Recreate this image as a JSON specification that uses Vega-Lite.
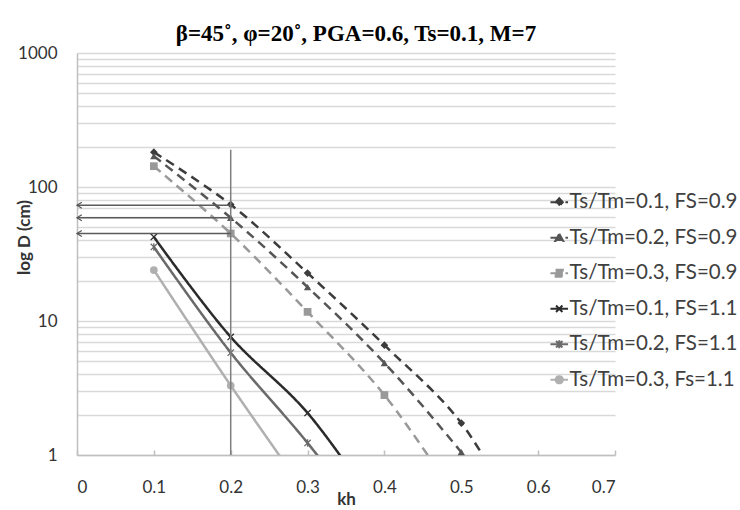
{
  "$schema": "https://vega.github.io/schema/vega-lite/v6.json",
  "width": 538,
  "height": 402,
  "autosize": "none",
  "padding": {"left": 77, "top": 53, "right": 125, "bottom": 55},
  "background": "white",
  "config": {
    "view": {"stroke": null},
    "font": "Lato"
  },
  "title": {
    "text": "β=45˚, φ=20˚, PGA=0.6, Ts=0.1, M=7",
    "font": "Liberation Serif, DejaVu Serif",
    "fontSize": 23,
    "fontWeight": "bold",
    "color": "#000000",
    "anchor": "middle",
    "baseline": "bottom",
    "frame": "group",
    "offset": 6,
    "dx": 10,
    "dy": 31
  },
  "data": {
    "values": [
      {"series": "Ts/Tm=0.1, FS=0.9", "kh": 0.1, "D": 182},
      {"series": "Ts/Tm=0.1, FS=0.9", "kh": 0.2, "D": 74},
      {"series": "Ts/Tm=0.1, FS=0.9", "kh": 0.3, "D": 22.8},
      {"series": "Ts/Tm=0.1, FS=0.9", "kh": 0.4, "D": 6.6},
      {"series": "Ts/Tm=0.1, FS=0.9", "kh": 0.5, "D": 1.73},
      {"series": "Ts/Tm=0.1, FS=0.9", "kh": 0.6, "D": 0.18},
      {"series": "Ts/Tm=0.2, FS=0.9", "kh": 0.1, "D": 170},
      {"series": "Ts/Tm=0.2, FS=0.9", "kh": 0.2, "D": 59},
      {"series": "Ts/Tm=0.2, FS=0.9", "kh": 0.3, "D": 17.9},
      {"series": "Ts/Tm=0.2, FS=0.9", "kh": 0.4, "D": 4.86},
      {"series": "Ts/Tm=0.2, FS=0.9", "kh": 0.5, "D": 1.05},
      {"series": "Ts/Tm=0.2, FS=0.9", "kh": 0.6, "D": 0.2},
      {"series": "Ts/Tm=0.3, FS=0.9", "kh": 0.1, "D": 143},
      {"series": "Ts/Tm=0.3, FS=0.9", "kh": 0.2, "D": 45},
      {"series": "Ts/Tm=0.3, FS=0.9", "kh": 0.3, "D": 11.7},
      {"series": "Ts/Tm=0.3, FS=0.9", "kh": 0.4, "D": 2.8},
      {"series": "Ts/Tm=0.3, FS=0.9", "kh": 0.5, "D": 0.42},
      {"series": "Ts/Tm=0.1, FS=1.1", "kh": 0.1, "D": 42.4},
      {"series": "Ts/Tm=0.1, FS=1.1", "kh": 0.2, "D": 7.6},
      {"series": "Ts/Tm=0.1, FS=1.1", "kh": 0.3, "D": 2.06},
      {"series": "Ts/Tm=0.1, FS=1.1", "kh": 0.4, "D": 0.33},
      {"series": "Ts/Tm=0.2, FS=1.1", "kh": 0.1, "D": 35.7},
      {"series": "Ts/Tm=0.2, FS=1.1", "kh": 0.2, "D": 5.8},
      {"series": "Ts/Tm=0.2, FS=1.1", "kh": 0.3, "D": 1.23},
      {"series": "Ts/Tm=0.2, FS=1.1", "kh": 0.4, "D": 0.22},
      {"series": "Ts/Tm=0.3, Fs=1.1", "kh": 0.1, "D": 24},
      {"series": "Ts/Tm=0.3, Fs=1.1", "kh": 0.2, "D": 3.3},
      {"series": "Ts/Tm=0.3, Fs=1.1", "kh": 0.3, "D": 0.5}
    ]
  },
  "layer": [
    {
      "mark": {"type": "line", "interpolate": "catmull-rom", "strokeWidth": 2.5, "clip": true},
      "encoding": {
        "x": {
          "field": "kh", "type": "quantitative",
          "scale": {"domain": [0, 0.7], "nice": false, "zero": false},
          "axis": {
            "title": "kh", "values": [0, 0.1, 0.2, 0.3, 0.4, 0.5, 0.6, 0.7], "format": "~g",
            "grid": false, "domainColor": "#bfbfbf", "domainWidth": 1.5,
            "tickColor": "#bfbfbf", "tickSize": -5, "tickWidth": 1.5,
            "labelFont": "Lato", "labelFontSize": 17, "labelColor": "#333333", "labelPadding": 29,
            "titleFont": "Lato", "titleFontSize": 17, "titleFontWeight": "bold", "titleColor": "#333333", "titlePadding": -4
          }
        },
        "y": {
          "field": "D", "type": "quantitative",
          "scale": {"type": "log", "domain": [1, 1000], "nice": false},
          "axis": {
            "title": "log D (cm)",
            "values": [1, 2, 3, 4, 5, 6, 7, 8, 9, 10, 20, 30, 40, 50, 60, 70, 80, 90, 100, 200, 300, 400, 500, 600, 700, 800, 900, 1000],
            "labelExpr": "datum.value == 1 || datum.value == 10 || datum.value == 100 || datum.value == 1000 ? format(datum.value, 'd') : ''",
            "grid": true, "gridColor": "#d9d9d9", "gridWidth": 1.5,
            "ticks": false, "domainColor": "#bfbfbf", "domainWidth": 1.5,
            "labelFont": "Lato", "labelFontSize": 17, "labelColor": "#333333", "labelPadding": 20,
            "titleFont": "Lato", "titleFontSize": 17, "titleFontWeight": "bold", "titleColor": "#333333",
            "titleX": -53, "titleY": 184, "titleAngle": 270, "titleAlign": "center", "titleBaseline": "middle"
          }
        },
        "color": {
          "field": "series", "type": "nominal",
          "scale": {
            "domain": ["Ts/Tm=0.1, FS=0.9", "Ts/Tm=0.2, FS=0.9", "Ts/Tm=0.3, FS=0.9", "Ts/Tm=0.1, FS=1.1", "Ts/Tm=0.2, FS=1.1", "Ts/Tm=0.3, Fs=1.1"],
            "range": ["#3c3c3c", "#555555", "#999999", "#2b2b2b", "#6a6a6a", "#b0b0b0"]
          },
          "legend": {
            "orient": "none", "legendX": 472, "legendY": 139, "title": null,
            "symbolSize": 64, "symbolStrokeWidth": 2, "labelFont": "Lato", "labelFontSize": 20.5, "labelColor": "#404040",
            "labelOffset": 0, "rowPadding": 14.5, "labelLimit": 300
          }
        },
        "strokeDash": {
          "field": "series", "type": "nominal",
          "scale": {
            "domain": ["Ts/Tm=0.1, FS=0.9", "Ts/Tm=0.2, FS=0.9", "Ts/Tm=0.3, FS=0.9", "Ts/Tm=0.1, FS=1.1", "Ts/Tm=0.2, FS=1.1", "Ts/Tm=0.3, Fs=1.1"],
            "range": [[9, 6], [9, 6], [9, 6], [1, 0], [1, 0], [1, 0]]
          }
        }
      }
    },
    {
      "transform": [{"filter": "false"}],
      "mark": {"type": "point", "filled": true, "strokeWidth": 2, "opacity": 1},
      "encoding": {
        "x": {"field": "kh", "type": "quantitative"},
        "y": {"field": "D", "type": "quantitative"},
        "color": {"field": "series", "type": "nominal"},
        "shape": {
          "field": "series", "type": "nominal",
          "scale": {
            "domain": ["Ts/Tm=0.1, FS=0.9", "Ts/Tm=0.2, FS=0.9", "Ts/Tm=0.3, FS=0.9", "Ts/Tm=0.1, FS=1.1", "Ts/Tm=0.2, FS=1.1", "Ts/Tm=0.3, Fs=1.1"],
            "range": [
              "M-2.2,0L2.2,0M0,-1L0.9,0L0,1L-0.9,0Z",
              "M-2.2,0L2.2,0M0,-1L1,0.8L-1,0.8Z",
              "M-2.2,0L2.2,0M-0.9,-0.9L0.9,-0.9L0.9,0.9L-0.9,0.9Z",
              "M-2.2,0L2.2,0M-0.8,-0.8L0.8,0.8M-0.8,0.8L0.8,-0.8",
              "M-2.2,0L2.2,0M-0.8,-0.8L0.8,0.8M-0.8,0.8L0.8,-0.8M0,-1L0,1",
              "M-2.2,0L2.2,0M-0.9,0A0.9,0.9,0,1,1,0.9,0A0.9,0.9,0,1,1,-0.9,0Z"
            ]
          }
        }
      }
    },
    {
      "transform": [{"filter": "datum.series === 'Ts/Tm=0.1, FS=0.9' && datum.D >= 1"}],
      "mark": {"type": "point", "shape": "diamond", "filled": true, "size": 60, "color": "#3c3c3c", "opacity": 1},
      "encoding": {"x": {"field": "kh", "type": "quantitative"}, "y": {"field": "D", "type": "quantitative"}}
    },
    {
      "transform": [{"filter": "datum.series === 'Ts/Tm=0.2, FS=0.9' && datum.D >= 1"}],
      "mark": {"type": "point", "shape": "triangle-up", "filled": true, "size": 55, "color": "#555555", "opacity": 1},
      "encoding": {"x": {"field": "kh", "type": "quantitative"}, "y": {"field": "D", "type": "quantitative"}}
    },
    {
      "transform": [{"filter": "datum.series === 'Ts/Tm=0.3, FS=0.9' && datum.D >= 1"}],
      "mark": {"type": "point", "shape": "square", "filled": true, "size": 60, "color": "#999999", "opacity": 1},
      "encoding": {"x": {"field": "kh", "type": "quantitative"}, "y": {"field": "D", "type": "quantitative"}}
    },
    {
      "transform": [{"filter": "datum.series === 'Ts/Tm=0.1, FS=1.1' && datum.D >= 1"}],
      "mark": {"type": "point", "shape": "M-1,-1L1,1M-1,1L1,-1", "filled": false, "size": 40, "strokeWidth": 1.3, "color": "#2b2b2b", "opacity": 1},
      "encoding": {"x": {"field": "kh", "type": "quantitative"}, "y": {"field": "D", "type": "quantitative"}}
    },
    {
      "transform": [{"filter": "datum.series === 'Ts/Tm=0.2, FS=1.1' && datum.D >= 1"}],
      "mark": {"type": "point", "shape": "M-1,-1L1,1M-1,1L1,-1M0,-1.2L0,1.2", "filled": false, "size": 40, "strokeWidth": 1.3, "color": "#6a6a6a", "opacity": 1},
      "encoding": {"x": {"field": "kh", "type": "quantitative"}, "y": {"field": "D", "type": "quantitative"}}
    },
    {
      "transform": [{"filter": "datum.series === 'Ts/Tm=0.3, Fs=1.1' && datum.D >= 1"}],
      "mark": {"type": "point", "shape": "circle", "filled": true, "size": 60, "color": "#b0b0b0", "opacity": 1},
      "encoding": {"x": {"field": "kh", "type": "quantitative"}, "y": {"field": "D", "type": "quantitative"}}
    },
    {
      "data": {"values": [{"kh": 0.2, "D": 1, "D2": 190}]},
      "mark": {"type": "rule", "color": "#7f7f7f", "strokeWidth": 1.5},
      "encoding": {
        "x": {"field": "kh", "type": "quantitative"},
        "y": {"field": "D", "type": "quantitative"},
        "y2": {"field": "D2"}
      }
    },
    {
      "data": {"values": [{"kh": 0, "kh2": 0.2, "D": 73}, {"kh": 0, "kh2": 0.2, "D": 59}, {"kh": 0, "kh2": 0.2, "D": 45}]},
      "layer": [
        {
          "mark": {"type": "rule", "color": "#5a5a5a", "strokeWidth": 1.5},
          "encoding": {
            "x": {"field": "kh", "type": "quantitative"},
            "x2": {"field": "kh2"},
            "y": {"field": "D", "type": "quantitative"}
          }
        },
        {
          "mark": {"type": "point", "shape": "M1.6,-1L0,0L1.6,1", "size": 36, "filled": false, "color": "#5a5a5a", "strokeWidth": 1.3, "opacity": 1},
          "encoding": {
            "x": {"field": "kh", "type": "quantitative"},
            "y": {"field": "D", "type": "quantitative"}
          }
        }
      ]
    }
  ]
}
